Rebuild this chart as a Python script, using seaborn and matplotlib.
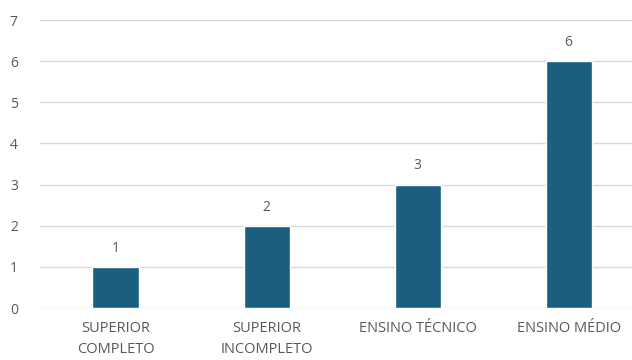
import matplotlib
matplotlib.use("Agg")
import matplotlib.pyplot as plt
import seaborn as sns
import pandas as pd

categories = ["SUPERIOR\nCOMPLETO", "SUPERIOR\nINCOMPLETO", "ENSINO TÉCNICO", "ENSINO MÉDIO"]
values = [1, 2, 3, 6]
yticks = [0, 1, 2, 3, 4, 5, 6, 7]

sns.set_theme(style="white")
plt.rcParams["font.family"] = ["Open Sans", "DejaVu Sans"]

df = pd.DataFrame({"cat": categories, "val": values})

fig = plt.figure(figsize=(6.32, 3.6), dpi=100)
ax = fig.add_axes([40 / 632, 52 / 360, 592 / 632, 288 / 360])
sns.barplot(data=df, x="cat", y="val", color="#1b5e80", width=0.305, ax=ax, saturation=1)

ax.set_ylim(0, 7)
ax.set_xlim(-0.5, 3.42)
ax.set_yticks(yticks)
ax.yaxis.grid(True, color="#d9d9d9", linewidth=1)
ax.set_axisbelow(True)
for s in ax.spines.values():
    s.set_visible(False)
ax.set_xlabel("")
ax.set_ylabel("")
ax.tick_params(axis="y", length=0, pad=16, labelsize=10, labelcolor="#595959")
ax.tick_params(axis="x", length=0, pad=9, labelsize=10.5, labelcolor="#595959")
for lbl in ax.get_xticklabels():
    lbl.set_linespacing(1.55)

for c in ax.containers:
    ax.bar_label(c, labels=[str(v) for v in values], padding=8, fontsize=10, color="#595959")

fig.savefig("out.png", dpi=100)
